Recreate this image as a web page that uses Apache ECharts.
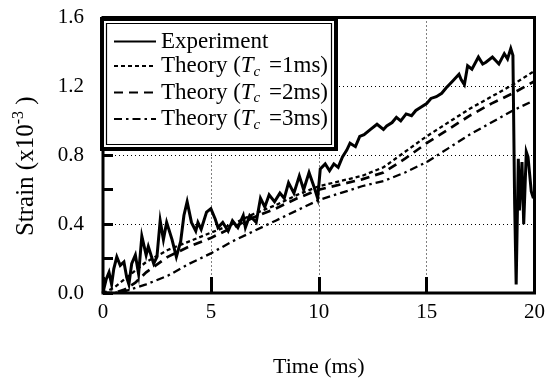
<!DOCTYPE html>
<html>
<head>
<meta charset="utf-8">
<script src="https://cdn.jsdelivr.net/npm/echarts@6/dist/echarts.min.js"></script>
<style>
  html, body { margin: 0; padding: 0; background: #fff; }
  #chart { width: 548px; height: 383px; }
</style>
</head>
<body>
<div id="chart"></div>
<script>
// measured strain, time (ms) -> strain (x10^-3)
var experiment = [
    [0.0, 0.0], [0.05, 0.03], [0.15, 0.08], [0.28, 0.12], [0.4, 0.05], [0.5, 0.14],
    [0.64, 0.21], [0.8, 0.16], [0.97, 0.18], [1.1, 0.09], [1.2, 0.05], [1.33, 0.17],
    [1.5, 0.22], [1.65, 0.11], [1.8, 0.33], [2.0, 0.22], [2.1, 0.27], [2.35, 0.17],
    [2.5, 0.21], [2.65, 0.42], [2.8, 0.31], [2.95, 0.41], [3.2, 0.31], [3.4, 0.21],
    [3.6, 0.3], [3.75, 0.45], [3.9, 0.53], [4.1, 0.41], [4.3, 0.36], [4.4, 0.41],
    [4.55, 0.37], [4.8, 0.47], [5.0, 0.49], [5.2, 0.43], [5.33, 0.38], [5.55, 0.41],
    [5.8, 0.36], [6.0, 0.42], [6.25, 0.38], [6.5, 0.45], [6.6, 0.38], [6.8, 0.45],
    [7.1, 0.41], [7.3, 0.55], [7.5, 0.5], [7.7, 0.57], [7.95, 0.53], [8.2, 0.58],
    [8.4, 0.55], [8.6, 0.64], [8.85, 0.58], [9.1, 0.68], [9.3, 0.6], [9.55, 0.7],
    [9.8, 0.61], [9.95, 0.55], [10.07, 0.72], [10.3, 0.75], [10.5, 0.71], [10.7, 0.75],
    [10.9, 0.73], [11.1, 0.79], [11.3, 0.83], [11.45, 0.87], [11.7, 0.85], [11.9, 0.91],
    [12.1, 0.92], [12.4, 0.95], [12.7, 0.98], [13.0, 0.95], [13.15, 0.97], [13.4, 0.99],
    [13.6, 1.02], [13.8, 1.0], [14.05, 1.04], [14.3, 1.03], [14.5, 1.06], [14.75, 1.08],
    [15.0, 1.1], [15.2, 1.13], [15.45, 1.14], [15.7, 1.16], [15.9, 1.19], [16.2, 1.23],
    [16.5, 1.27], [16.6, 1.24], [16.75, 1.21], [16.9, 1.32], [17.1, 1.3], [17.4, 1.37],
    [17.6, 1.33], [17.75, 1.34], [18.05, 1.37], [18.2, 1.35], [18.35, 1.33], [18.6, 1.39],
    [18.75, 1.36], [18.9, 1.42], [19.0, 1.38], [19.08, 0.52], [19.15, 0.05], [19.25, 0.78],
    [19.3, 0.48], [19.42, 0.76], [19.5, 0.4], [19.62, 0.82], [19.7, 0.79], [19.85, 0.59],
    [19.95, 0.55]
];

// model curves
var theory1 = [
    [0, 0], [0.5, 0.03], [1, 0.08], [1.5, 0.13], [2, 0.18], [3, 0.25], [4, 0.3],
    [5, 0.35], [6, 0.4], [7, 0.46], [8, 0.51], [9, 0.57], [10, 0.62], [11, 0.65],
    [12, 0.68], [13, 0.73], [14, 0.82], [15, 0.91], [16, 0.99], [17, 1.07], [18, 1.14],
    [19, 1.21], [20, 1.29]
];
var theory2 = [
    [0, 0], [0.5, 0.0], [1, 0.02], [1.5, 0.06], [2, 0.12], [3, 0.21], [4, 0.27],
    [5, 0.32], [6, 0.38], [7, 0.44], [8, 0.49], [9, 0.55], [10, 0.6], [11, 0.63],
    [12, 0.66], [13, 0.7], [14, 0.78], [15, 0.87], [16, 0.95], [17, 1.03], [18, 1.1],
    [19, 1.16], [20, 1.23]
];
var theory3 = [
    [0, 0], [0.5, 0.0], [1, 0.01], [1.5, 0.03], [2, 0.05], [3, 0.1], [4, 0.17],
    [5, 0.23], [6, 0.3], [7, 0.36], [8, 0.42], [9, 0.48], [10, 0.54], [11, 0.58],
    [12, 0.62], [13, 0.65], [14, 0.7], [15, 0.76], [16, 0.84], [17, 0.92], [18, 0.99],
    [19, 1.06], [20, 1.12]
];

var seriesNames = ['Experiment', 'Theory (Tc =1ms)', 'Theory (Tc =2ms)', 'Theory (Tc =3ms)'];

var FONT = '"Liberation Serif", "DejaVu Serif", serif';

var chart = echarts.init(document.getElementById('chart'), null, {renderer: 'canvas'});

function lineSeries(name, data, width, dash) {
    return {
        name: name,
        type: 'line',
        data: data,
        showSymbol: false,
        symbol: 'none',
        z: 2,
        itemStyle: {color: '#000'},
        lineStyle: {color: '#000', width: width, type: dash, cap: 'butt', join: 'miter'}
    };
}

var option = {
    backgroundColor: '#fff',
    animation: false,
    grid: {
        left: 103, right: 9, top: 17.5, bottom: 83.5,
        show: true, borderColor: '#000', borderWidth: 3
    },
    xAxis: {
        type: 'value',
        min: 0, max: 20, interval: 5,
        name: 'Time (ms)',
        nameLocation: 'middle',
        nameGap: 63,
        nameTextStyle: {fontFamily: FONT, fontSize: 22, color: '#000'},
        axisLine: {show: false},
        axisTick: {show: true, inside: true, length: 16, lineStyle: {color: '#000', width: 3}},
        axisLabel: {fontFamily: FONT, fontSize: 21, color: '#000', margin: 9},
        splitLine: {show: true, lineStyle: {color: '#000', width: 1, type: [1, 3]}}
    },
    yAxis: {
        type: 'value',
        min: 0, max: 1.6, interval: 0.4,
        name: 'Strain (x10{sup|-3} )',
        nameLocation: 'middle',
        nameGap: 62,
        nameTextStyle: {
            fontFamily: FONT, fontSize: 25, color: '#000',
            padding: [0, 22, 0, 0],
            rich: {sup: {fontFamily: FONT, fontSize: 16, color: '#000', padding: [0, 0, 14, 0]}}
        },
        axisLine: {show: false},
        axisTick: {show: true, inside: true, length: 10, lineStyle: {color: '#000', width: 3}},
        minorTick: {show: true, splitNumber: 2, length: 10, lineStyle: {color: '#000', width: 3}},
        axisLabel: {
            fontFamily: FONT, fontSize: 21, color: '#000', margin: 19,
            formatter: function (v) { return v.toFixed(1); }
        },
        splitLine: {show: true, lineStyle: {color: '#000', width: 1, type: [1, 3]}}
    },
    legend: {
        orient: 'vertical',
        left: 113,
        top: 30,
        z: 6,
        itemWidth: 42,
        itemHeight: 14,
        itemGap: 1.5,
        padding: 0,
        data: seriesNames,
        itemStyle: {opacity: 0},
        lineStyle: {opacity: 1},
        textStyle: {
            fontFamily: FONT, fontSize: 23, color: '#000',
            rich: {
                it: {fontFamily: FONT, fontSize: 23, fontStyle: 'italic', color: '#000'},
                sub: {fontFamily: FONT, fontSize: 15, fontStyle: 'italic', color: '#000', padding: [12, 3, 0, 0]}
            }
        },
        formatter: function (name) {
            return name.replace('Tc', '{it|T}{sub|c}');
        }
    },
    graphic: [
        {
            type: 'rect', z: 5, silent: true,
            shape: {x: 102, y: 19, width: 234, height: 130},
            style: {fill: '#fff', stroke: '#000', lineWidth: 4}
        },
        {
            type: 'rect', z: 5, silent: true,
            shape: {x: 106.5, y: 23.5, width: 225, height: 121},
            style: {fill: 'none', stroke: '#000', lineWidth: 1.2}
        }
    ],
    series: [
        lineSeries(seriesNames[0], experiment, 3, 'solid'),
        lineSeries(seriesNames[1], theory1, 2.3, [4, 3]),
        lineSeries(seriesNames[2], theory2, 2.7, [9, 6]),
        lineSeries(seriesNames[3], theory3, 2.3, [8, 4, 2.5, 4])
    ]
};

chart.setOption(option);
</script>
</body>
</html>
